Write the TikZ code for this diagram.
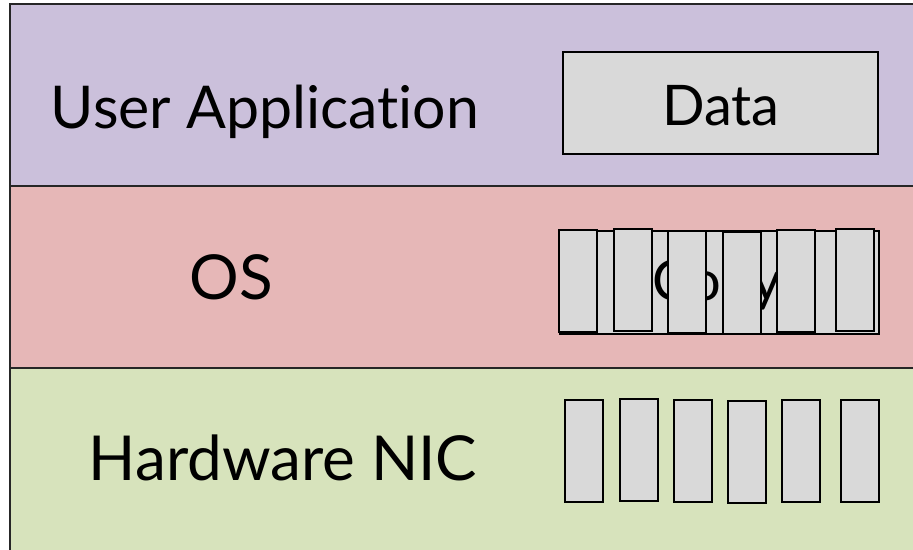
\documentclass[tikz,border=0pt]{standalone}
\usepackage{fontspec}
\setmainfont[Ligatures=NoCommon]{Lato}
\definecolor{userpurple}{RGB}{203,192,219}
\definecolor{osred}{RGB}{230,183,183}
\definecolor{nicgreen}{RGB}{215,227,188}
\definecolor{boxgray}{RGB}{217,217,217}
\tikzstyle{band}=[draw=black!85,line width=1.3pt]
\tikzstyle{layertext}=[inner sep=0pt,anchor=base,font=\fontsize{62}{70}\selectfont]
\tikzstyle{boxtext}=[inner sep=0pt,anchor=base,font=\fontsize{56}{64}\selectfont]
\tikzstyle{bigbox}=[draw=black,fill=boxgray,line width=1.8pt,inner sep=0pt]
\tikzstyle{cell}=[draw=black,fill=boxgray,line width=2pt,inner sep=0pt,minimum width=38pt,minimum height=102pt]

\begin{document}
\begin{tikzpicture}[x=1pt,y=-1pt]
	\useasboundingbox (0,0) rectangle (913,549);
	\clip (0,0) rectangle (913,549);
	% layers
	\draw[band,fill=userpurple] (10,4) rectangle (940,186);
	\draw[band,fill=osred] (10,186) rectangle (940,368);
	\draw[band,fill=nicgreen] (10,368) rectangle (940,570);
	\node [style=layertext,font=\fontsize{59}{66}\selectfont] (user) at (265,128) {User Application};
	\node [style=layertext] (os) at (231,299) {OS};
	\node [style=layertext] (nic) at (283,480) {Hardware NIC};
	% user data
	\node [style=bigbox,minimum width=315pt,minimum height=102pt] (data) at (720.5,103) {};
	\node [style=boxtext] (datatext) at (721,125) {Data};
	% copy in the OS
	\node [style=bigbox,minimum width=319pt,minimum height=103pt] (copy) at (719.5,282.5) {};
	\node [style=boxtext] (copytext) at (717,300) {Copy};
	\foreach \x/\y [count=\i] in {578/281,633/280,687/281.5,742/282.5,796/281,855/280}
		\node [style=cell] (os\i) at (\x,\y) {};
	% packets on the NIC
	\foreach \x/\y [count=\i] in {584/451,638.5/450,692.5/451,746.5/452,801/451,860/451}
		\node [style=cell] (nic\i) at (\x,\y) {};
\end{tikzpicture}
\end{document}
